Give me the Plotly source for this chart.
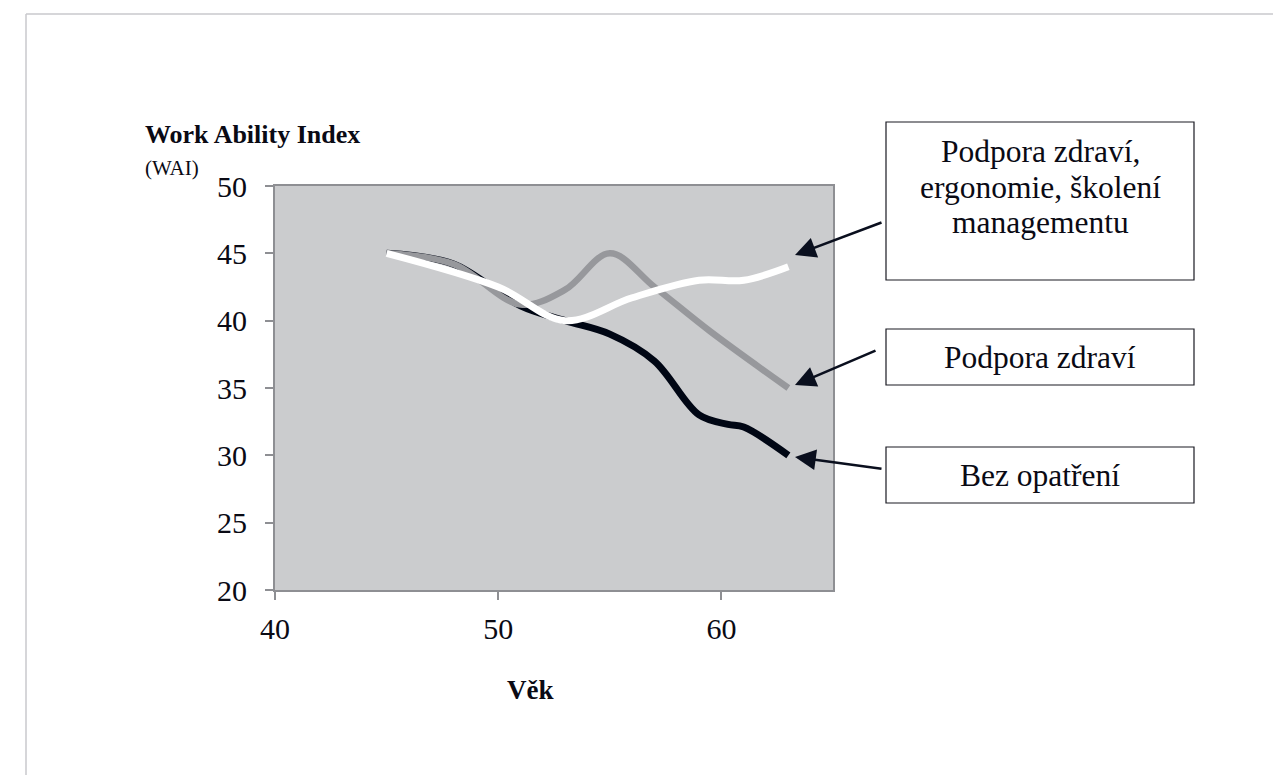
import plotly.graph_objects as go

# ---- data ----
age_bez = [45, 48, 51, 53, 55, 57, 59, 60.3, 61, 63]
wai_bez = [45, 44.2, 41.1, 40, 39, 37, 33, 32.3, 32.1, 30]

age_zdravi = [45, 48, 51, 53, 55, 57, 59.5, 63]
wai_zdravi = [45, 44.2, 41.2, 42.3, 45, 42.5, 39.2, 35]

age_komplex = [45, 50, 53, 56, 59, 61, 63]
wai_komplex = [45, 42.5, 40, 41.7, 43, 43, 44]

x_ticks = [40, 50, 60]
y_ticks = [20, 25, 30, 35, 40, 45, 50]

box1_lines = ["Podpora zdraví,", "ergonomie, školení", "managementu"]
box2_text = "Podpora zdraví"
box3_text = "Bez opatření"

# page geometry (reference pixel coordinates); the html body adds an 8px offset
OFF = 8
W, H = 1281, 775
L, R, T, B = 275, 833, 186, 590
FONT = "Liberation Serif"
TXT = "#0a0a14"

def px(xp):
    return (xp - L) / (R - L)

def py(yp):
    return (B - yp) / (B - T)

fig = go.Figure()
fig.add_trace(go.Scatter(x=age_bez, y=wai_bez, mode="lines",
                         line=dict(color="#000614", width=7, shape="spline", smoothing=1.0),
                         hoverinfo="skip"))
fig.add_trace(go.Scatter(x=age_zdravi, y=wai_zdravi, mode="lines",
                         line=dict(color="#97989c", width=6.5, shape="spline", smoothing=1.0),
                         hoverinfo="skip"))
fig.add_trace(go.Scatter(x=age_komplex, y=wai_komplex, mode="lines",
                         line=dict(color="#ffffff", width=7, shape="spline", smoothing=1.0),
                         hoverinfo="skip"))

shapes = []
# outer frame (top and left edges)
shapes.append(dict(type="line", xref="paper", yref="paper", x0=px(26), x1=px(W + 20), y0=py(14), y1=py(14),
                   line=dict(color="#c9c9cc", width=1.5)))
shapes.append(dict(type="line", xref="paper", yref="paper", x0=px(26), x1=px(26), y0=py(14), y1=py(H + 20),
                   line=dict(color="#c9c9cc", width=1.5)))

boxes = [(886, 122, 1194, 280), (886, 329, 1194, 385), (886, 447, 1194, 503)]
for (x0, y0, x1, y1) in boxes:
    shapes.append(dict(type="rect", xref="paper", yref="paper",
                       x0=px(x0), x1=px(x1), y0=py(y1), y1=py(y0),
                       line=dict(color="#1a1a22", width=1.2), fillcolor="white"))

annotations = []
BOXFONT = dict(family=FONT, size=31.5, color=TXT)
for i, line in enumerate(box1_lines):
    annotations.append(dict(xref="paper", yref="paper", x=px(1040), y=py(152 + 35 * i), text=line,
                            showarrow=False, xanchor="center", yanchor="middle", font=BOXFONT))
annotations.append(dict(xref="paper", yref="paper", x=px(1040), y=py(357), text=box2_text,
                        showarrow=False, xanchor="center", yanchor="middle", font=BOXFONT))
annotations.append(dict(xref="paper", yref="paper", x=px(1040), y=py(475), text=box3_text,
                        showarrow=False, xanchor="center", yanchor="middle", font=BOXFONT))

# arrows (tip at the end of each curve, tail at box edge)
arrows = [((795, 255), (883, 222)), ((795, 385), (877, 350)), ((795, 457), (883, 469))]
for (tx, ty), (sx, sy) in arrows:
    annotations.append(dict(xref="paper", yref="paper", x=px(tx), y=py(ty),
                            ax=sx - tx, ay=sy - ty, axref="pixel", ayref="pixel",
                            text="", showarrow=True, arrowhead=2, arrowsize=1.6,
                            arrowwidth=2.6, arrowcolor="#0a0f1e"))

# axis titles
annotations.append(dict(xref="paper", yref="paper", x=px(143), y=py(151), text="<b>Work Ability Index</b>",
                        showarrow=False, xanchor="left", yanchor="bottom",
                        font=dict(family=FONT, size=26, color=TXT)))
annotations.append(dict(xref="paper", yref="paper", x=px(143), y=py(182), text="(WAI)",
                        showarrow=False, xanchor="left", yanchor="bottom",
                        font=dict(family=FONT, size=21, color=TXT)))
annotations.append(dict(xref="paper", yref="paper", x=px(530), y=py(690), text="<b>Věk</b>",
                        showarrow=False, xanchor="center", yanchor="middle",
                        font=dict(family=FONT, size=27, color=TXT)))

fig.update_layout(
    width=W - OFF, height=H - OFF,
    margin=dict(l=L - OFF, r=W - R, t=T - OFF, b=H - B, pad=0),
    paper_bgcolor="white", plot_bgcolor="#cbccce",
    showlegend=False,
    shapes=shapes, annotations=annotations,
    font=dict(family=FONT, color=TXT, size=30),
)
TICKFONT = dict(family=FONT, size=30, color=TXT)
fig.update_xaxes(range=[40, 65], tickvals=x_ticks, ticktext=[str(v) for v in x_ticks],
                 showgrid=False, zeroline=False, showline=True, linecolor="#8e8f93", linewidth=2,
                 mirror=True, ticks="outside", ticklen=8, tickcolor="#8e8f93", tickwidth=1.5,
                 tickfont=TICKFONT, ticklabelstandoff=3)
fig.update_yaxes(range=[20, 50], tickvals=y_ticks, ticktext=[str(v) for v in y_ticks],
                 showgrid=False, zeroline=False, showline=True, linecolor="#8e8f93", linewidth=2,
                 mirror=True, ticks="outside", ticklen=8, tickcolor="#8e8f93", tickwidth=1.5,
                 tickfont=TICKFONT, ticklabelstandoff=12)

fig.write_html("out.html")
